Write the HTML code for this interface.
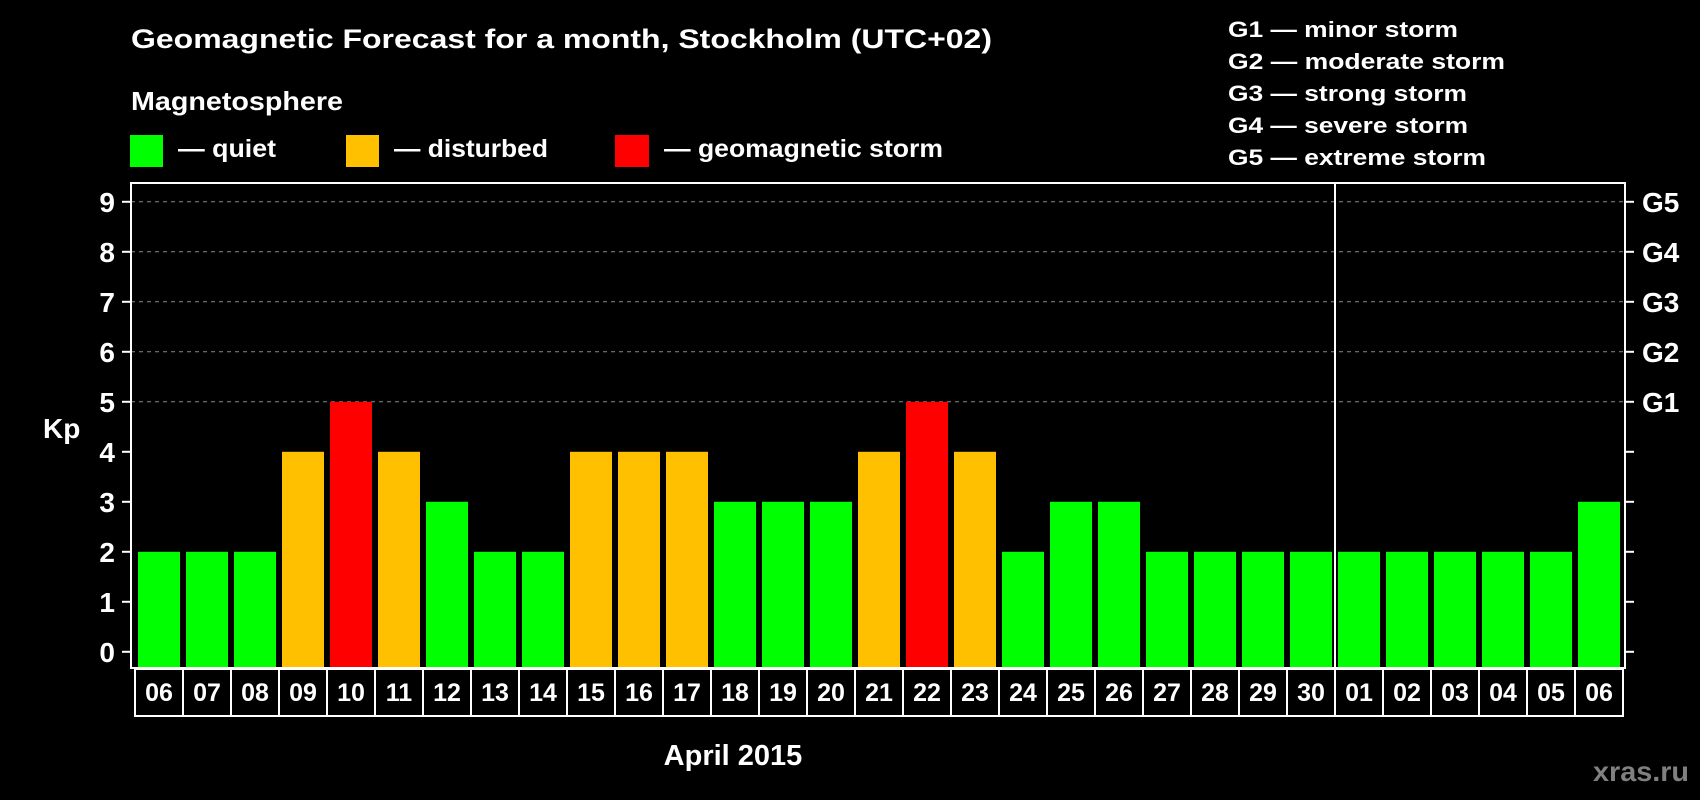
<!DOCTYPE html>
<html><head><meta charset="utf-8"><style>
html,body{margin:0;padding:0;background:#000;width:1700px;height:800px;overflow:hidden}
svg{display:block;font-family:"Liberation Sans",Arial,sans-serif;font-weight:bold}
</style></head><body>
<svg id="chart" width="1700" height="800" viewBox="0 0 1700 800">
<rect width="1700" height="800" fill="#000"/>
<text x="131" y="48" fill="#fff" font-size="27" textLength="861" lengthAdjust="spacingAndGlyphs">Geomagnetic Forecast for a month, Stockholm (UTC+02)</text>
<text x="131" y="110" fill="#fff" font-size="26" textLength="212" lengthAdjust="spacingAndGlyphs">Magnetosphere</text>
<rect x="130" y="135" width="33" height="32" fill="#00ff00"/>
<text x="178" y="157" fill="#fff" font-size="25" textLength="98" lengthAdjust="spacingAndGlyphs">— quiet</text>
<rect x="346" y="135" width="33" height="32" fill="#ffc000"/>
<text x="394" y="157" fill="#fff" font-size="25" textLength="154" lengthAdjust="spacingAndGlyphs">— disturbed</text>
<rect x="615" y="135" width="34" height="32" fill="#ff0000"/>
<text x="664" y="157" fill="#fff" font-size="25" textLength="279" lengthAdjust="spacingAndGlyphs">— geomagnetic storm</text>
<g fill="#fff" font-size="22">
<text x="1228" y="37" textLength="230" lengthAdjust="spacingAndGlyphs">G1 — minor storm</text>
<text x="1228" y="69" textLength="277" lengthAdjust="spacingAndGlyphs">G2 — moderate storm</text>
<text x="1228" y="101" textLength="239" lengthAdjust="spacingAndGlyphs">G3 — strong storm</text>
<text x="1228" y="133" textLength="240" lengthAdjust="spacingAndGlyphs">G4 — severe storm</text>
<text x="1228" y="165" textLength="258" lengthAdjust="spacingAndGlyphs">G5 — extreme storm</text>
</g>
<g id="grid"></g>
<g id="bars"></g>
<g id="axes"></g>
<text x="43" y="438" fill="#fff" font-size="28">Kp</text>
<text x="733" y="765" fill="#fff" font-size="29" text-anchor="middle">April 2015</text>
<text x="1593" y="781" fill="#808080" font-size="28" textLength="96" lengthAdjust="spacingAndGlyphs">xras.ru</text>
</svg>
<script>
const days = ["06","07","08","09","10","11","12","13","14","15","16","17","18","19","20","21","22","23","24","25","26","27","28","29","30","01","02","03","04","05","06"];
const kpValues = [2,2,2,4,5,4,3,2,2,4,4,4,3,3,3,4,5,4,2,3,3,2,2,2,2,2,2,2,2,2,3];
const yTicks = [0,1,2,3,4,5,6,7,8,9];
const gLabels = ["G1","G2","G3","G4","G5"];
const monthBreakIndex = 25;

const NS = "http://www.w3.org/2000/svg";
const plotL = 131, plotR = 1625, plotT = 183, plotB = 668;
const y = v => 651.8 - 50 * v;
const xStart = 138, pitch = (1620 - 138 - 42) / (days.length - 1), barW = 42;
const x = i => xStart + pitch * i;
function mk(tag, attrs, parent) {
  const e = document.createElementNS(NS, tag);
  for (const k in attrs) e.setAttribute(k, attrs[k]);
  parent.appendChild(e);
  return e;
}
const grid = document.getElementById("grid");
const bars = document.getElementById("bars");
const axes = document.getElementById("axes");

yTicks.forEach(t => {
  if (t >= 5) {
    const gl = mk("line", {x1: plotL, x2: plotR, y1: y(t), y2: y(t), stroke: "#8a8a8a", "stroke-width": 1, "stroke-dasharray": "4,4"}, grid);
    
    
  }
  const tl = mk("line", {x1: 122, x2: plotL, y1: y(t), y2: y(t), stroke: "#fff", "stroke-width": 2}, axes);
  
  
  const tr = mk("line", {x1: plotR, x2: 1634, y1: y(t), y2: y(t), stroke: "#fff", "stroke-width": 2}, axes);
  
  
  const lab = mk("text", {x: 115, y: y(t) + 10, fill: "#fff", "font-size": 28, "text-anchor": "end"}, axes);
  lab.textContent = t;
  
  
  if (t >= 5) {
    const g = mk("text", {x: 1642, y: y(t) + 10, fill: "#fff", "font-size": 28}, axes);
    g.textContent = gLabels[t - 5];
    
    
  }
});

kpValues.forEach((v, i) => {
  const col = v >= 5 ? "#ff0000" : (v >= 4 ? "#ffc000" : "#00ff00");
  const r = mk("rect", {x: x(i), y: y(v), width: barW, height: plotB - 1 - y(v), fill: col}, bars);
  
  
});

const frame = mk("rect", {x: plotL, y: plotT, width: plotR - plotL, height: plotB - plotT, fill: "none", stroke: "#fff", "stroke-width": 2}, axes);


const sepX = x(monthBreakIndex) - (pitch - barW) / 2;
const sep = mk("line", {x1: sepX, x2: sepX, y1: plotT, y2: plotB, stroke: "#fff", "stroke-width": 2}, axes);



const cellT = 669, cellB = 716;
const cellL = x(0) - 3, cellR = x(days.length - 1) + barW + 3;
const cells = mk("rect", {x: cellL, y: cellT, width: cellR - cellL, height: cellB - cellT, fill: "none", stroke: "#fff", "stroke-width": 2}, axes);


days.forEach((d, i) => {
  if (i > 0) {
    const dv = x(i) - (pitch - barW) / 2;
    const dl = mk("line", {x1: dv, x2: dv, y1: cellT, y2: cellB, stroke: "#fff", "stroke-width": 2}, axes);
    
    
  }
  const t = mk("text", {x: x(i) + barW / 2, y: 701, fill: "#fff", "font-size": 25, "text-anchor": "middle"}, axes);
  t.textContent = d;
  
  
});
</script>
</body></html>
